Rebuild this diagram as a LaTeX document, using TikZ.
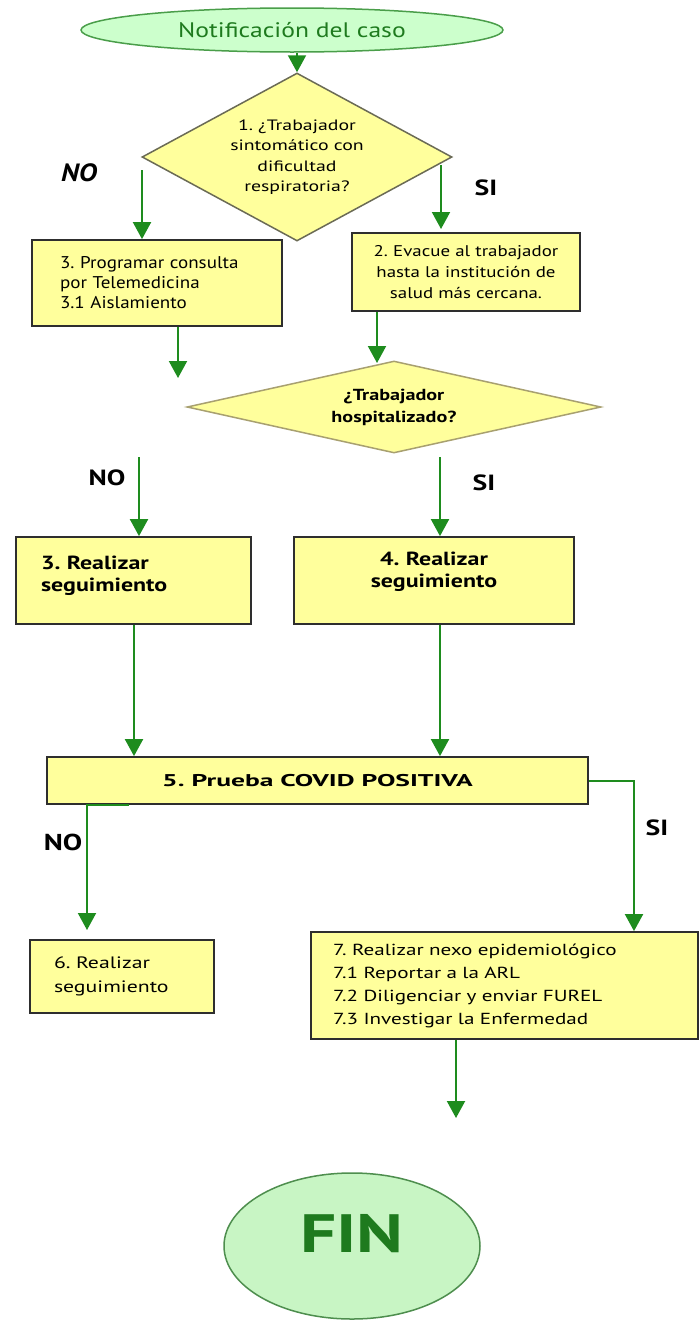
\documentclass[tikz,border=0pt]{standalone}
\usepackage{fontspec}
\setmainfont{PT Sans}[FakeStretch=1.32]
\newfontfamily\fa{PT Sans}[FakeStretch=1.12]
\newfontfamily\fb{PT Sans}[FakeStretch=1.22]
\newfontfamily\wbf{PT Sans}[FakeStretch=1.26]
\newfontfamily\xbf{PT Sans}[FakeStretch=1.62]
\usetikzlibrary{shapes.geometric,arrows.meta}
\definecolor{boxyellow}{HTML}{FFFF9C}
\definecolor{ellfill}{HTML}{CCFFCC}
\definecolor{finfill}{HTML}{C8F5C4}
\definecolor{ellline}{HTML}{4A9E4A}
\definecolor{finline}{HTML}{4E8E4E}
\definecolor{arrgreen}{HTML}{1E8C1E}
\definecolor{txtgreen}{HTML}{1E7A1E}
\definecolor{boxline}{HTML}{2E2E2E}
\definecolor{diaone}{HTML}{6B6B55}
\definecolor{diatwo}{HTML}{A8A070}
\begin{document}
\frenchspacing
\begin{tikzpicture}[x=1pt,y=-1pt,
  arr/.style={draw=arrgreen, line width=2pt, -{Triangle[width=18pt,length=17pt]}},
  boxA/.style={draw=boxline, line width=1.8pt, fill=boxyellow, rectangle, inner ysep=0pt},
  dia/.style={fill=boxyellow, diamond, inner sep=0pt, line width=1.5pt},
  lbl/.style={font=\fontsize{22}{26}\selectfont\wbf\bfseries},
  ell/.style={ellipse, draw=ellline, line width=1.5pt, fill=ellfill, inner sep=0pt, text=txtgreen}
]
\useasboundingbox[fill=white] (0,0) rectangle (700,1320);

% start
\node[ell, minimum width=422pt, minimum height=44pt, font=\fontsize{21}{24}\selectfont\fb] (start) at (292,30) {Notificación del caso};

% decision 1
\node[dia, draw=diaone, minimum width=310pt, minimum height=168pt, aspect=1.85, text width=140pt, align=center, font=\fontsize{15}{20.5}\selectfont] (d1) at (297,157) {1. ¿Trabajador\\sintomático con\\dificultad\\respiratoria?};
\draw[arr] (d1.north |- start.south) -- (d1.north);

\node[lbl, font=\fontsize{25}{28}\selectfont\fa\bfseries\itshape] (no1) at (79,173) {NO};
\node[lbl] (si1) at (486,188) {SI};

% boxes row 1
\node[boxA, minimum width=250pt, minimum height=86pt, inner xsep=28pt, text width=194pt, align=left, font=\fontsize{17}{20}\selectfont\fa] (b3) at (157,283) {3. Programar consulta\\por Telemedicina\\3.1 Aislamiento};
\node[boxA, minimum width=228pt, minimum height=78pt, text width=214pt, align=center, font=\fontsize{15.5}{21}\selectfont\fb] (b2) at (466,272) {2. Evacue al trabajador\\hasta la institución de\\salud más cercana.};

\coordinate (n1s) at (142,170);
\coordinate (s1s) at (441,165);
\coordinate (s1e) at (441,229);
\draw[arr] (n1s) -- (b3.north -| n1s);
\draw[arr] (s1s) -- (s1e);

% decision 2
\node[dia, draw=diatwo, minimum width=414pt, minimum height=92pt, aspect=4.5, text width=150pt, align=center, font=\fontsize{16}{22}\selectfont\wbf\bfseries] (d2) at (394,407) {¿Trabajador\\hospitalizado?};

\coordinate (a3) at (178,378);
\coordinate (a2) at (377,363);
\draw[arr] (b3.south -| a3) -- (a3);
\draw[arr] (b2.south -| a2) -- (a2);

\node[lbl] (no2) at (107,478) {NO};
\node[lbl] (si2) at (484,483) {SI};

% boxes row 2
\node[boxA, minimum width=235pt, minimum height=87pt, inner xsep=25pt, text width=185pt, align=left, font=\fontsize{19}{22}\selectfont\wbf\bfseries] (b3b) at (133.5,580.5) {3. Realizar\\seguimiento\\[-8pt]\mbox{}};
\node[boxA, minimum width=280pt, minimum height=87pt, text width=260pt, align=center, font=\fontsize{19}{22}\selectfont\wbf\bfseries] (b4) at (434,580.5) {4. Realizar\\seguimiento\\\mbox{}};

\coordinate (n2s) at (139,457);
\coordinate (s2s) at (440,457);
\draw[arr] (n2s) -- (b3b.north -| n2s);
\draw[arr] (s2s) -- (b4.north -| s2s);

% box 5
\node[boxA, minimum width=541pt, minimum height=47pt, font=\fontsize{17}{21}\selectfont\xbf\bfseries] (b5) at (317.5,780.5) {5. Prueba COVID POSITIVA};

\coordinate (x3b) at (134,0);
\coordinate (x4) at (440,0);
\draw[arr] (b3b.south -| x3b) -- (b5.north -| x3b);
\draw[arr] (b4.south -| x4) -- (b5.north -| x4);

% boxes row 3
\node[boxA, minimum width=184pt, minimum height=73pt, inner xsep=24pt, text width=136pt, align=left, font=\fontsize{16.5}{24}\selectfont] (b6) at (122,976.5) {6. Realizar\\seguimiento};
\node[boxA, minimum width=387pt, minimum height=107pt, inner xsep=22pt, text width=343pt, align=left, font=\fontsize{16}{23}\selectfont] (b7) at (504.5,985.5) {7. Realizar nexo epidemiológico\\7.1 Reportar a la ARL\\7.2 Diligenciar y enviar FUREL\\7.3 Investigar la Enfermedad};

\coordinate (xs) at (634,0);
\coordinate (xn) at (87,0);
\coordinate (xn2) at (129,0);
\coordinate (n3e) at (87,930);
\draw[arr] (b5.east) -| (b7.north -| xs);
\draw[arr] (b5.south -| xn2) -- (b5.south -| xn) -- (n3e);

\node[lbl, font=\fontsize{23}{26}\selectfont\wbf\bfseries] (no3) at (63,842) {NO};
\node[lbl] (si3) at (657,828) {SI};

% end
\node[ell, draw=finline, fill=finfill, minimum width=256pt, minimum height=146pt, font=\fontsize{54}{60}\selectfont\bfseries, text depth=26pt] (fin) at (352,1246) {FIN};
\coordinate (fe) at (456,1118);
\draw[arr] (b7.south -| fe) -- (fe);
\end{tikzpicture}
\end{document}
